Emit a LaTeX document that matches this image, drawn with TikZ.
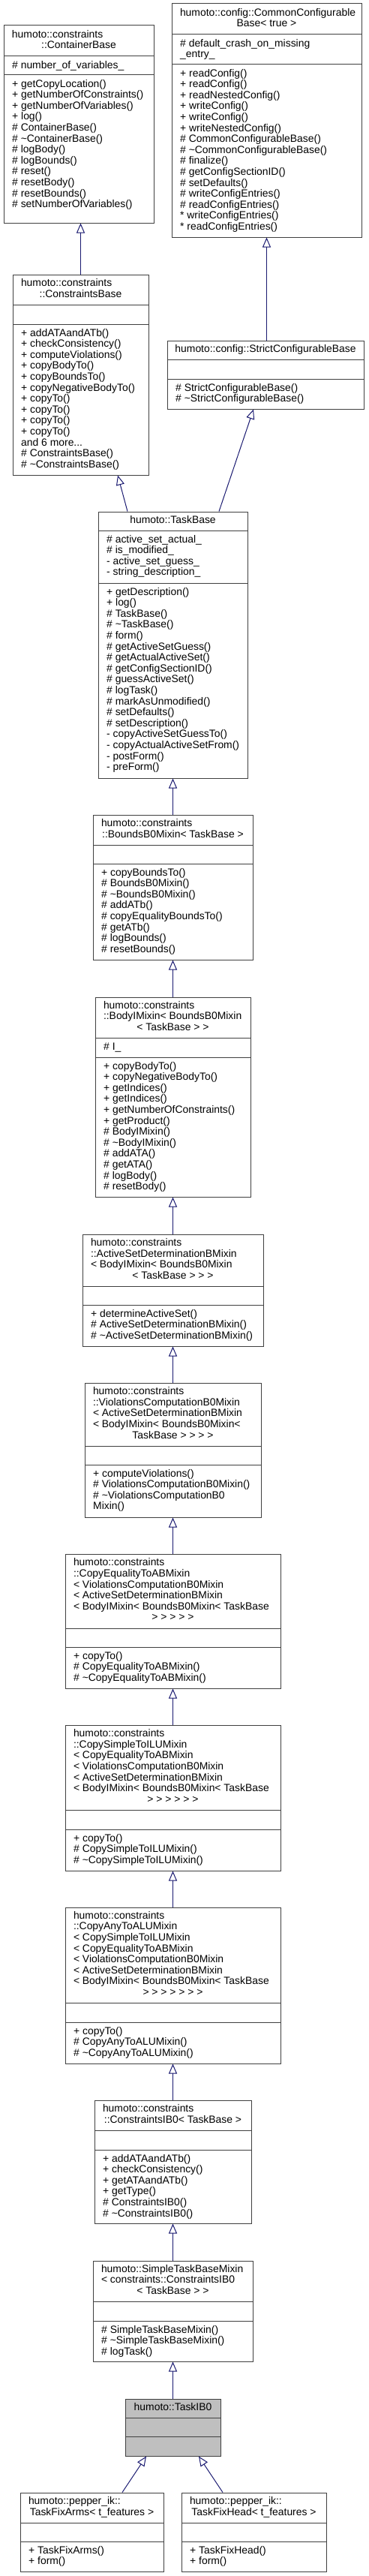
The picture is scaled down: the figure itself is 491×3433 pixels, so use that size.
\documentclass[tikz,border=0pt]{standalone}
\usepackage{fontspec}
\setmainfont{Liberation Sans}
\usepackage{tikz}
\usetikzlibrary{arrows.meta,fit}
\definecolor{edgeblue}{HTML}{191970}
\definecolor{framegray}{HTML}{404040}
\definecolor{focusgray}{HTML}{BFBFBF}

% [style]{name}{left}{right}{top}{sep1}{sep2}{bottom}
\newcommand{\umlbox}[8][]{%
  \pgfmathsetmacro{\clsw}{#4-#3-22}%
  \node[cls,#1,fit={(#3,#5) (#4,#8)}] (#2) {};
  \draw[compart] (#3,#6) -- (#4,#6) (#3,#7) -- (#4,#7);
  \coordinate (#2-tc) at ({(#3+#4)/2},{(#5+#6)/2});
  \coordinate (#2-ac) at (#3+11,#6+5.8);
  \coordinate (#2-mc) at (#3+11,#7+5.8);
}
\newcommand{\clsrow}[1]{\makebox[\clsw pt][l]{#1}}
\newcommand{\clslast}[1]{\makebox[\clsw pt][c]{#1}}
\newcommand{\clstitle}[1]{\begin{tabular}{@{}l@{}}#1\end{tabular}}

\begin{document}
\begin{tikzpicture}[x=1pt, y=-1pt,
  font=\fontsize{13.9pt}{14.6pt}\selectfont,
  cls/.style={draw=framegray, line width=1pt, fill=white, inner sep=0pt},
  compart/.style={draw=framegray, line width=1pt},
  ttl/.style={inner sep=0pt},
  mem/.style={inner sep=0pt, anchor=north west, align=left,
    execute at begin node=\strut},
  inh/.style={-{Triangle[open,length=13pt,width=11pt]}, draw=edgeblue,
    line width=1pt}]
  \path[fill=white, use as bounding box] (0,0) rectangle (491,3433);

  \umlbox{cb}{5}{205}{34}{75}{100}{297}
  \node[ttl] (cb-title) at (cb-tc) {\clstitle{\clsrow{humoto::constraints}\\\clslast{::ContainerBase}}};
  \node[mem] (cb-attr) at (cb-ac) {\# number\_of\_variables\_};
  \node[mem] (cb-ops) at (cb-mc) {+ getCopyLocation()\\+ getNumberOfConstraints()\\+ getNumberOfVariables()\\+ log()\\\# ContainerBase()\\\# \textasciitilde ContainerBase()\\\# logBody()\\\# logBounds()\\\# reset()\\\# resetBody()\\\# resetBounds()\\\# setNumberOfVariables()};

  \umlbox{ccb}{229}{482}{5}{46}{86}{316}
  \node[ttl] (ccb-title) at (ccb-tc) {\clstitle{\clsrow{humoto::config::CommonConfigurable}\\\clslast{Base< true >}}};
  \node[mem] (ccb-attr) at (ccb-ac) {\# default\_crash\_on\_missing\\\_entry\_};
  \node[mem] (ccb-ops) at (ccb-mc) {+ readConfig()\\+ readConfig()\\+ readNestedConfig()\\+ writeConfig()\\+ writeConfig()\\+ writeNestedConfig()\\\# CommonConfigurableBase()\\\# \textasciitilde CommonConfigurableBase()\\\# finalize()\\\# getConfigSectionID()\\\# setDefaults()\\\# writeConfigEntries()\\\# readConfigEntries()\\{*} writeConfigEntries()\\{*} readConfigEntries()};

  \umlbox{scb}{223}{485}{454}{479}{505}{545}
  \node[ttl] (scb-title) at (scb-tc) {\clstitle{\clslast{humoto::config::StrictConfigurableBase}}};
  \node[mem] (scb-ops) at (scb-mc) {\# StrictConfigurableBase()\\\# \textasciitilde StrictConfigurableBase()};

  \umlbox{csb}{17}{198}{366}{406}{432}{633}
  \node[ttl] (csb-title) at (csb-tc) {\clstitle{\clsrow{humoto::constraints}\\\clslast{::ConstraintsBase}}};
  \node[mem] (csb-ops) at (csb-mc) {+ addATAandATb()\\+ checkConsistency()\\+ computeViolations()\\+ copyBodyTo()\\+ copyBoundsTo()\\+ copyNegativeBodyTo()\\+ copyTo()\\+ copyTo()\\+ copyTo()\\+ copyTo()\\and 6 more...\\\# ConstraintsBase()\\\# \textasciitilde ConstraintsBase()};

  \umlbox{tb}{131}{330}{682}{707}{777}{1037}
  \node[ttl] (tb-title) at (tb-tc) {\clstitle{\clslast{humoto::TaskBase}}};
  \node[mem] (tb-attr) at (tb-ac) {\# active\_set\_actual\_\\\# is\_modified\_\\- active\_set\_guess\_\\- string\_description\_};
  \node[mem] (tb-ops) at (tb-mc) {+ getDescription()\\+ log()\\\# TaskBase()\\\# \textasciitilde TaskBase()\\\# form()\\\# getActiveSetGuess()\\\# getActualActiveSet()\\\# getConfigSectionID()\\\# guessActiveSet()\\\# logTask()\\\# markAsUnmodified()\\\# setDefaults()\\\# setDescription()\\- copyActiveSetGuessTo()\\- copyActualActiveSetFrom()\\- postForm()\\- preForm()};

  \umlbox{bb0}{124}{337}{1086}{1126}{1151}{1279}
  \node[ttl] (bb0-title) at (bb0-tc) {\clstitle{\clsrow{humoto::constraints}\\\clslast{::BoundsB0Mixin< TaskBase >}}};
  \node[mem] (bb0-ops) at (bb0-mc) {+ copyBoundsTo()\\\# BoundsB0Mixin()\\\# \textasciitilde BoundsB0Mixin()\\\# addATb()\\\# copyEqualityBoundsTo()\\\# getATb()\\\# logBounds()\\\# resetBounds()};

  \umlbox{bim}{127}{334}{1329}{1383}{1409}{1595}
  \node[ttl] (bim-title) at (bim-tc) {\clstitle{\clsrow{humoto::constraints}\\\clsrow{::BodyIMixin< BoundsB0Mixin}\\\clslast{< TaskBase > >}}};
  \node[mem] (bim-attr) at (bim-ac) {\# I\_};
  \node[mem] (bim-ops) at (bim-mc) {+ copyBodyTo()\\+ copyNegativeBodyTo()\\+ getIndices()\\+ getIndices()\\+ getNumberOfConstraints()\\+ getProduct()\\\# BodyIMixin()\\\# \textasciitilde BodyIMixin()\\\# addATA()\\\# getATA()\\\# logBody()\\\# resetBody()};

  \umlbox{asd}{110}{351}{1645}{1714}{1739}{1794}
  \node[ttl] (asd-title) at (asd-tc) {\clstitle{\clsrow{humoto::constraints}\\\clsrow{::ActiveSetDeterminationBMixin}\\\clsrow{< BodyIMixin< BoundsB0Mixin}\\\clslast{< TaskBase > > >}}};
  \node[mem] (asd-ops) at (asd-mc) {+ determineActiveSet()\\\# ActiveSetDeterminationBMixin()\\\# \textasciitilde ActiveSetDeterminationBMixin()};

  \umlbox{vcm}{113}{348}{1843}{1927}{1952}{2022}
  \node[ttl] (vcm-title) at (vcm-tc) {\clstitle{\clsrow{humoto::constraints}\\\clsrow{::ViolationsComputationB0Mixin}\\\clsrow{< ActiveSetDeterminationBMixin}\\\clsrow{< BodyIMixin< BoundsB0Mixin<}\\\clslast{TaskBase > > > >}}};
  \node[mem] (vcm-ops) at (vcm-mc) {+ computeViolations()\\\# ViolationsComputationB0Mixin()\\\# \textasciitilde ViolationsComputationB0\\Mixin()};

  \umlbox{ceq}{87}{374}{2071}{2170}{2195}{2250}
  \node[ttl] (ceq-title) at (ceq-tc) {\clstitle{\clsrow{humoto::constraints}\\\clsrow{::CopyEqualityToABMixin}\\\clsrow{< ViolationsComputationB0Mixin}\\\clsrow{< ActiveSetDeterminationBMixin}\\\clsrow{< BodyIMixin< BoundsB0Mixin< TaskBase}\\\clslast{> > > > >}}};
  \node[mem] (ceq-ops) at (ceq-mc) {+ copyTo()\\\# CopyEqualityToABMixin()\\\# \textasciitilde CopyEqualityToABMixin()};

  \umlbox{csi}{87}{374}{2299}{2412}{2438}{2493}
  \node[ttl] (csi-title) at (csi-tc) {\clstitle{\clsrow{humoto::constraints}\\\clsrow{::CopySimpleToILUMixin}\\\clsrow{< CopyEqualityToABMixin}\\\clsrow{< ViolationsComputationB0Mixin}\\\clsrow{< ActiveSetDeterminationBMixin}\\\clsrow{< BodyIMixin< BoundsB0Mixin< TaskBase}\\\clslast{> > > > > >}}};
  \node[mem] (csi-ops) at (csi-mc) {+ copyTo()\\\# CopySimpleToILUMixin()\\\# \textasciitilde CopySimpleToILUMixin()};

  \umlbox{cal}{87}{374}{2542}{2669}{2695}{2750}
  \node[ttl] (cal-title) at (cal-tc) {\clstitle{\clsrow{humoto::constraints}\\\clsrow{::CopyAnyToALUMixin}\\\clsrow{< CopySimpleToILUMixin}\\\clsrow{< CopyEqualityToABMixin}\\\clsrow{< ViolationsComputationB0Mixin}\\\clsrow{< ActiveSetDeterminationBMixin}\\\clsrow{< BodyIMixin< BoundsB0Mixin< TaskBase}\\\clslast{> > > > > > >}}};
  \node[mem] (cal-ops) at (cal-mc) {+ copyTo()\\\# CopyAnyToALUMixin()\\\# \textasciitilde CopyAnyToALUMixin()};

  \umlbox{cib}{126}{335}{2799}{2839}{2865}{2963}
  \node[ttl] (cib-title) at (cib-tc) {\clstitle{\clsrow{humoto::constraints}\\\clslast{::ConstraintsIB0< TaskBase >}}};
  \node[mem] (cib-ops) at (cib-mc) {+ addATAandATb()\\+ checkConsistency()\\+ getATAandATb()\\+ getType()\\\# ConstraintsIB0()\\\# \textasciitilde ConstraintsIB0()};

  \umlbox{stb}{124}{337}{3013}{3067}{3093}{3147}
  \node[ttl] (stb-title) at (stb-tc) {\clstitle{\clsrow{humoto::SimpleTaskBaseMixin}\\\clsrow{< constraints::ConstraintsIB0}\\\clslast{< TaskBase > >}}};
  \node[mem] (stb-ops) at (stb-mc) {\# SimpleTaskBaseMixin()\\\# \textasciitilde SimpleTaskBaseMixin()\\\# logTask()};

  \umlbox[fill=focusgray]{tib}{167}{294}{3197}{3222}{3247}{3273}
  \node[ttl] (tib-title) at (tib-tc) {\clstitle{\clslast{humoto::TaskIB0}}};

  \umlbox{tfa}{27}{218}{3322}{3362}{3387}{3427}
  \node[ttl] (tfa-title) at (tfa-tc) {\clstitle{\clsrow{humoto::pepper\_ik::}\\\clslast{TaskFixArms< t\_features >}}};
  \node[mem] (tfa-ops) at (tfa-mc) {+ TaskFixArms()\\+ form()};

  \umlbox{tfh}{242}{435}{3322}{3362}{3387}{3427}
  \node[ttl] (tfh-title) at (tfh-tc) {\clstitle{\clsrow{humoto::pepper\_ik::}\\\clslast{TaskFixHead< t\_features >}}};
  \node[mem] (tfh-ops) at (tfh-mc) {+ TaskFixHead()\\+ form()};

  % inheritance
  \draw[inh] (csb.north) -- (csb.north |- cb.south);
  \draw[inh] (scb.north -| ccb.south) -- (ccb.south);
  \draw[inh] ([xshift=-60.5pt]tb.north) -- ([xshift=49.5pt]csb.south);
  \draw[inh] ([xshift=61.5pt]tb.north) -- ([xshift=-16pt]scb.south);
  \draw[inh] (bb0.north) -- (tb.south);
  \draw[inh] (bim.north) -- (bb0.south);
  \draw[inh] (asd.north) -- (bim.south);
  \draw[inh] (vcm.north) -- (asd.south);
  \draw[inh] (ceq.north) -- (vcm.south);
  \draw[inh] (csi.north) -- (ceq.south);
  \draw[inh] (cal.north) -- (csi.south);
  \draw[inh] (cib.north) -- (cal.south);
  \draw[inh] (stb.north) -- (cib.south);
  \draw[inh] (tib.north) -- (stb.south);
  \draw[inh] ([xshift=40.5pt]tfa.north) -- ([xshift=-35.5pt]tib.south);
  \draw[inh] ([xshift=-41.5pt]tfh.north) -- ([xshift=34.5pt]tib.south);
\end{tikzpicture}
\end{document}
